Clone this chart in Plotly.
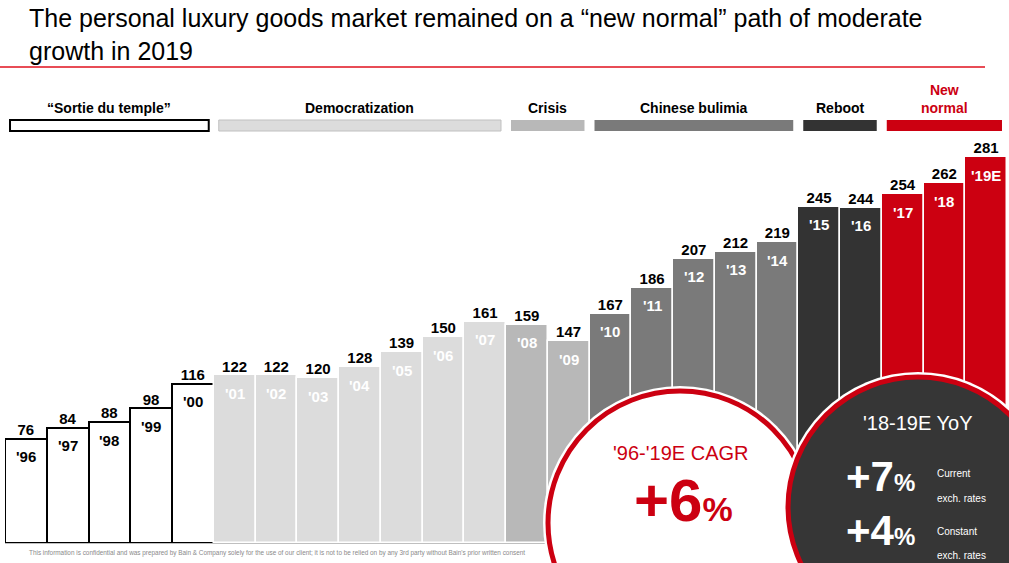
import plotly.graph_objects as go

# data (EUR billions)
years = ["'96", "'97", "'98", "'99", "'00", "'01", "'02", "'03", "'04", "'05", "'06", "'07",
         "'08", "'09", "'10", "'11", "'12", "'13", "'14", "'15", "'16", "'17", "'18", "'19E"]
values = [76, 84, 88, 98, 116, 122, 122, 120, 128, 139, 150, 161,
          159, 147, 167, 186, 207, 212, 219, 245, 244, 254, 262, 281]

phase_names = ["\u201cSortie du temple\u201d", "Democratization", "Crisis",
               "Chinese bulimia", "Reboot", "New<br>normal"]
phase_counts = [5, 7, 2, 5, 2, 3]
phase_colors = ["#ffffff", "#dcdcdc", "#b8b8b8", "#7a7a7a", "#333333", "#cc0011"]
phase_label_colors = ["black", "black", "black", "black", "black", "#cc0011"]

RED = "#cc0011"
W, H = 1009, 563
L, R, T, B = 5, 2, 131, 20
PW, PH = W - L - R, H - T - B


def px(x):
    return (x - L) / PW


def py(y):
    return 1 - (y - T) / PH


# colour per bar from its phase
bar_fill, bar_line, bar_lw, year_col = [], [], [], []
for i, n in enumerate(phase_counts):
    for _ in range(n):
        bar_fill.append(phase_colors[i])
        bar_line.append("black" if i == 0 else "white")
        bar_lw.append(2 if i == 0 else 1.5)
        year_col.append("black" if i == 0 else "white")

fig = go.Figure()

fig.add_trace(go.Bar(
    x=years, y=values,
    marker=dict(color=bar_fill, line=dict(color=bar_line, width=bar_lw)),
    hoverinfo="skip",
))

fig.add_trace(go.Scatter(
    x=years, y=values, mode="text",
    text=[str(v) for v in values], textposition="top center",
    textfont=dict(family="Arial", size=15, color="black", weight="bold"),
    hoverinfo="skip",
))

shapes = []
annotations = []

# year labels just under each bar top
for yr, v, c in zip(years, values, year_col):
    annotations.append(dict(x=yr, y=v, yshift=-18, yanchor="middle", showarrow=False,
                            text="<b>%s</b>" % yr, font=dict(family="Arial", size=15, color=c)))

# phase header bars
start = 0
for i, n in enumerate(phase_counts):
    x0 = start - 0.5 + 0.12
    x1 = start + n - 1 + 0.5 - 0.12
    if i == 0:
        line = dict(color="black", width=2)
    elif i == 1:
        line = dict(color="#c0c0c0", width=1)
    else:
        line = dict(width=0)
    shapes.append(dict(type="rect", xref="x", yref="paper", x0=x0, x1=x1,
                       y0=py(131), y1=py(120), fillcolor=phase_colors[i], line=line,
                       layer="above"))
    annotations.append(dict(xref="x", yref="paper", x=(x0 + x1) / 2, y=py(118),
                            yanchor="bottom", showarrow=False, text="<b>%s</b>" % phase_names[i],
                            font=dict(family="Arial", size=14, color=phase_label_colors[i])))
    start += n

# title rule
shapes.append(dict(type="line", xref="paper", yref="paper", x0=px(0), x1=px(985),
                   y0=py(67), y1=py(67), line=dict(color="#e0101e", width=1.5)))

# circles (white halo, then the ring)
def circle(cx, cy, r, fill, line_color, lw):
    return dict(type="circle", xref="paper", yref="paper", xsizemode="pixel", ysizemode="pixel",
                xanchor=px(cx), yanchor=py(cy), x0=-r, x1=r, y0=-r, y1=r,
                fillcolor=fill, line=dict(color=line_color, width=lw), layer="above")


shapes.append(circle(680, 523, 137, "white", "white", 0))
shapes.append(circle(680, 523, 132, "white", RED, 5))
shapes.append(circle(918, 507, 135, "white", "white", 0))
shapes.append(circle(918, 507, 130, "#363636", RED, 5))


def note(x, y, text, size, color, xanchor="center", family="Arial"):
    annotations.append(dict(xref="paper", yref="paper", x=px(x), y=py(y), text=text,
                            xanchor=xanchor, yanchor="middle", showarrow=False,
                            font=dict(family=family, size=size, color=color)))


note(680, 453, "'96-'19E CAGR", 20, RED, family="Liberation Sans Narrow, Arial")
note(683, 500, "<b>+6<span style='font-size:34px'>%</span></b>", 60, RED)

note(917, 423, "'18-19E YoY", 20, "white", family="Liberation Sans Narrow, Arial")
note(880, 476, "<b>+7<span style='font-size:24px'>%</span></b>", 42, "white")
note(880, 530, "<b>+4<span style='font-size:24px'>%</span></b>", 42, "white")
note(935, 473, "Current", 10, "white", xanchor="left")
note(935, 498, "exch. rates", 10, "white", xanchor="left")
note(935, 531, "Constant", 10, "white", xanchor="left")
note(935, 555, "exch. rates", 10, "white", xanchor="left")

# title and footer
annotations.append(dict(xref="paper", yref="paper", x=px(27), y=py(2), xanchor="left", yanchor="top",
                        align="left", showarrow=False,
                        text="The personal luxury goods market remained on a \u201cnew normal\u201d path of moderate<br>growth in 2019",
                        font=dict(family="Arial", size=25, color="black")))
note(277, 553, "This information is confidential and was prepared by Bain &amp; Company solely for the use of our client; "
     "it is not to be relied on by any 3rd party without Bain's prior written consent", 6.4, "#8a8a8a")

fig.update_layout(
    width=W, height=H,
    margin=dict(l=L, r=R, t=T, b=B),
    paper_bgcolor="white", plot_bgcolor="white",
    showlegend=False, bargap=0,
    xaxis=dict(type="category", range=[-0.5, 23.5], showticklabels=False, ticks="",
               showgrid=False, zeroline=False, showline=True, linecolor="#bfbfbf", linewidth=1),
    yaxis=dict(range=[0, 300], visible=False),
    shapes=shapes, annotations=annotations,
)

# drop the page's default body margin so the figure sits at the window corner
fig.write_html("out.html", config={"displayModeBar": False},
               post_script="document.body.style.margin = '0';")
